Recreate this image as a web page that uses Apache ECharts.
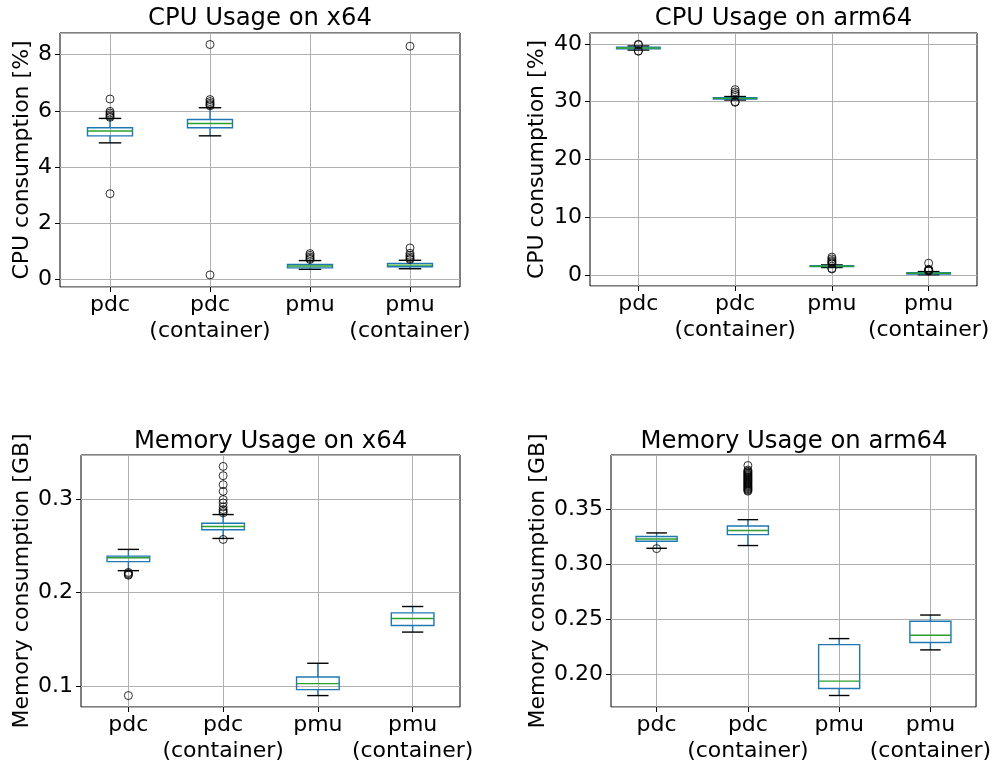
<!DOCTYPE html>
<html>
<head>
<meta charset="utf-8">
<script src="https://cdn.jsdelivr.net/npm/echarts@6/dist/echarts.min.js"></script>
<style>
html,body{margin:0;padding:0;background:#fff;}
#chart{width:994px;height:764px;}
</style>
</head>
<body>
<div id="chart"></div>
<script>
// ---------- data ----------
const categories = ['pdc', 'pdc\n(container)', 'pmu', 'pmu\n(container)'];

// box stats per category: [whiskerLow, q1, median, q3, whiskerHigh]
const cpuX64Stats = [
  [4.86, 5.11, 5.28, 5.40, 5.73],
  [5.11, 5.40, 5.55, 5.69, 6.11],
  [0.36, 0.41, 0.48, 0.53, 0.67],
  [0.38, 0.45, 0.51, 0.57, 0.68]
];
const cpuX64Outliers = [
  [6.42, 5.98, 5.92, 5.86, 5.81, 5.77, 3.05],
  [8.36, 6.40, 6.33, 6.27, 6.22, 6.18, 0.16],
  [0.92, 0.86, 0.80, 0.75, 0.71],
  [8.30, 1.12, 0.93, 0.86, 0.80, 0.75, 0.71]
];

const cpuArmStats = [
  [38.95, 39.15, 39.30, 39.45, 39.65],
  [30.30, 30.45, 30.58, 30.70, 30.90],
  [1.30, 1.45, 1.52, 1.60, 1.75],
  [0.05, 0.18, 0.30, 0.40, 0.60]
];
const cpuArmOutliers = [
  [39.95, 39.85, 38.80, 38.75],
  [32.1, 31.7, 31.4, 31.1, 30.0, 29.9],
  [3.1, 2.8, 2.5, 2.3, 2.1, 1.95, 1.15, 1.05],
  [2.05, 1.0, 0.9, 0.8, 0.75, 0.7]
];

const memX64Stats = [
  [0.2234, 0.2330, 0.2372, 0.2389, 0.2461],
  [0.2578, 0.2670, 0.2705, 0.2740, 0.2833],
  [0.0900, 0.0964, 0.1028, 0.1099, 0.1245],
  [0.1578, 0.1649, 0.1723, 0.1783, 0.1851]
];
const memX64Outliers = [
  [0.2215, 0.2203, 0.2193, 0.2185, 0.0900],
  [0.3347, 0.3248, 0.3152, 0.3081, 0.2993, 0.2957, 0.2915, 0.2886, 0.2868, 0.2851, 0.2567],
  [],
  []
];

const memArmStats = [
  [0.3148, 0.3212, 0.3233, 0.3255, 0.3288],
  [0.3173, 0.3273, 0.3310, 0.3351, 0.3409],
  [0.1805, 0.1869, 0.1936, 0.2269, 0.2324],
  [0.2221, 0.2288, 0.2355, 0.2482, 0.2539]
];
const memArmOutliers = [
  [0.3145],
  [0.3903, 0.3862, 0.3851, 0.3843, 0.3835, 0.3826, 0.3818, 0.3810, 0.3801, 0.3793, 0.3785, 0.3776, 0.3768, 0.3760, 0.3751, 0.3743, 0.3735, 0.3726, 0.3718, 0.3710, 0.3702, 0.3693, 0.3685, 0.3677, 0.3669],
  [],
  []
];

const titles = ['CPU Usage on x64', 'CPU Usage on arm64', 'Memory Usage on x64', 'Memory Usage on arm64'];
const yNames = ['CPU consumption [%]', 'CPU consumption [%]', 'Memory consumption [GB]', 'Memory consumption [GB]'];

// ---------- layout ----------
const grids = [
  {left: 60, top: 33, width: 400, height: 254},
  {left: 590, top: 33, width: 387, height: 253},
  {left: 81, top: 455, width: 379, height: 253},
  {left: 611, top: 455, width: 366, height: 253}
];
const yRanges = [[-0.27, 8.77], [-1.9, 41.9], [0.0778, 0.3469], [0.170, 0.3999]];
const ySplit = [5, 5, 3, 5];
const yDigits = [0, 0, 1, 2];
const nameGaps = [27, 42, 48, 62];
const titleTops = [7, 7, 430, 430];

const statsList = [cpuX64Stats, cpuArmStats, memX64Stats, memArmStats];
const outList = [cpuX64Outliers, cpuArmOutliers, memX64Outliers, memArmOutliers];

const FONT = 'DejaVu Sans';
const BLUE = '#1f77b4', GREEN = '#2ca02c', GRIDC = '#b0b0b0';

function boxRender(params, api) {
  const x = api.value(0);
  const pLo = api.coord([x, api.value(1)]);
  const pQ1 = api.coord([x, api.value(2)]);
  const pMed = api.coord([x, api.value(3)]);
  const pQ3 = api.coord([x, api.value(4)]);
  const pHi = api.coord([x, api.value(5)]);
  const band = api.size([1, 0])[0];
  const bw = band * 0.45, cw = bw / 2;
  const cx = pMed[0];
  const lw = 1.4;
  return {
    type: 'group',
    children: [
      {type: 'line', shape: {x1: cx, y1: pQ1[1], x2: cx, y2: pLo[1]}, style: {stroke: BLUE, lineWidth: lw}},
      {type: 'line', shape: {x1: cx, y1: pQ3[1], x2: cx, y2: pHi[1]}, style: {stroke: BLUE, lineWidth: lw}},
      {type: 'line', shape: {x1: cx - cw / 2, y1: pLo[1], x2: cx + cw / 2, y2: pLo[1]}, style: {stroke: '#000', lineWidth: lw}},
      {type: 'line', shape: {x1: cx - cw / 2, y1: pHi[1], x2: cx + cw / 2, y2: pHi[1]}, style: {stroke: '#000', lineWidth: lw}},
      {type: 'rect', shape: {x: cx - bw / 2, y: pQ3[1], width: bw, height: pQ1[1] - pQ3[1]}, style: {stroke: BLUE, fill: 'none', lineWidth: lw}},
      {type: 'line', shape: {x1: cx - bw / 2, y1: pMed[1], x2: cx + bw / 2, y2: pMed[1]}, style: {stroke: GREEN, lineWidth: lw}}
    ]
  };
}

const option = {
  animation: false,
  backgroundColor: '#fff',
  title: [], grid: [], xAxis: [], yAxis: [], series: []
};

for (let i = 0; i < 4; i++) {
  const g = grids[i];
  option.title.push({
    text: titles[i], left: g.left + g.width / 2, top: titleTops[i], textAlign: 'center', padding: 0,
    textStyle: {fontFamily: FONT, fontSize: 24.3, fontWeight: 'normal', color: '#000'}
  });
  option.grid.push({
    left: g.left, top: g.top, width: g.width, height: g.height,
    show: true, borderColor: '#000', borderWidth: 1, backgroundColor: 'transparent'
  });
  option.xAxis.push({
    type: 'category', gridIndex: i, data: categories,
    axisLine: {show: false, onZero: false},
    axisTick: {show: true, alignWithLabel: true, length: 5, lineStyle: {color: '#000'}},
    splitLine: {show: true, alignWithLabel: true, lineStyle: {color: GRIDC, width: 1}},
    axisLabel: {fontFamily: FONT, fontSize: 22, color: '#000', margin: 5, lineHeight: 26, interval: 0}
  });
  const d = yDigits[i];
  option.yAxis.push({
    type: 'value', gridIndex: i, min: yRanges[i][0], max: yRanges[i][1], splitNumber: ySplit[i],
    name: yNames[i], nameLocation: 'middle', nameGap: nameGaps[i], nameRotate: 90,
    nameTextStyle: {fontFamily: FONT, fontSize: 22, color: '#000'},
    axisLine: {show: false, onZero: false},
    axisTick: {show: true, length: 5, lineStyle: {color: '#000'}},
    splitLine: {show: true, lineStyle: {color: GRIDC, width: 1}},
    axisLabel: {fontFamily: FONT, fontSize: 22, color: '#000', margin: 8, showMinLabel: false, showMaxLabel: false,
      formatter: v => Number(v).toFixed(d)}
  });
  const boxData = statsList[i].map((s, k) => [k].concat(s));
  option.series.push({
    type: 'custom', xAxisIndex: i, yAxisIndex: i, renderItem: boxRender,
    encode: {x: 0, y: [1, 2, 3, 4, 5]}, data: boxData, z: 3
  });
  const outData = [];
  outList[i].forEach((arr, k) => arr.forEach(v => outData.push([k, v])));
  option.series.push({
    type: 'scatter', xAxisIndex: i, yAxisIndex: i, data: outData, symbol: 'circle', symbolSize: 8,
    itemStyle: {color: 'rgba(0,0,0,0)', borderColor: '#000', borderWidth: 1}, z: 4, silent: true
  });
}

const chart = echarts.init(document.getElementById('chart'), null, {renderer: 'canvas'});
chart.setOption(option);
</script>
</body>
</html>
